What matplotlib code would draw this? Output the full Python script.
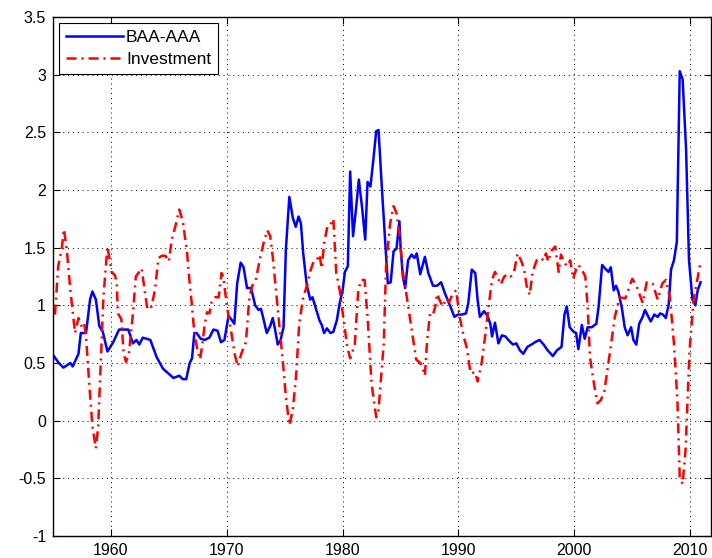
import numpy as np
import matplotlib
matplotlib.use('Agg')
import matplotlib.pyplot as plt

# Valores (año, valor)
baa_anio = [1955.0, 1955.5, 1955.9, 1956.5, 1956.7, 1957.2, 1957.4, 1957.85, 1958.2, 1958.4,
            1958.7, 1959.0, 1959.3, 1959.7, 1960.2, 1960.7, 1961.35, 1961.5, 1961.9, 1962.2,
            1962.45, 1962.75, 1963.4, 1963.95, 1964.5, 1964.95, 1965.4, 1965.9, 1966.2, 1966.5,
            1966.8, 1967.0, 1967.2, 1967.4, 1967.75, 1968.1, 1968.5, 1968.85, 1969.2, 1969.5,
            1969.8, 1970.15, 1970.45, 1970.65, 1970.9, 1971.2, 1971.45, 1971.75, 1972.1, 1972.45,
            1972.75, 1972.95, 1973.15, 1973.45, 1973.75, 1973.97, 1974.17, 1974.4, 1974.65, 1974.9,
            1975.1, 1975.4, 1975.7, 1975.95, 1976.2, 1976.4, 1976.6, 1976.9, 1977.2, 1977.4,
            1977.7, 1978.0, 1978.2, 1978.4, 1978.65, 1978.95, 1979.2, 1979.5, 1979.75, 1980.0,
            1980.2, 1980.45, 1980.65, 1980.9, 1981.15, 1981.4, 1981.7, 1981.95, 1982.15, 1982.4,
            1982.65, 1982.9, 1983.1, 1983.4, 1983.7, 1983.9, 1984.15, 1984.4, 1984.65, 1984.9,
            1985.0, 1985.2, 1985.4, 1985.65, 1985.95, 1986.2, 1986.4, 1986.7, 1987.1, 1987.4,
            1987.8, 1988.15, 1988.5, 1988.85, 1989.3, 1989.65, 1989.95, 1990.3, 1990.65, 1990.85,
            1991.15, 1991.45, 1991.65, 1991.85, 1992.2, 1992.5, 1992.75, 1992.9, 1993.15, 1993.45,
            1993.75, 1994.05, 1994.3, 1994.7, 1995.0, 1995.3, 1995.6, 1995.95, 1996.3, 1996.6,
            1997.0, 1997.35, 1997.7, 1998.15, 1998.5, 1998.9, 1999.15, 1999.35, 1999.6, 1999.95,
            2000.15, 2000.35, 2000.65, 2000.9, 2001.15, 2001.5, 2001.9, 2002.1, 2002.4, 2002.75,
            2002.95, 2003.15, 2003.4, 2003.6, 2003.8, 2004.1, 2004.35, 2004.6, 2004.9, 2005.1,
            2005.35, 2005.6, 2005.9, 2006.1, 2006.4, 2006.6, 2006.9, 2007.2, 2007.4, 2007.65,
            2007.9, 2008.15, 2008.35, 2008.6, 2008.85, 2009.1, 2009.35, 2009.65, 2009.9, 2010.2,
            2010.45, 2010.65, 2010.9]
baa_aaa = [0.57, 0.50, 0.46, 0.50, 0.47, 0.58, 0.76, 0.76, 1.05, 1.12,
           1.05, 0.82, 0.77, 0.60, 0.68, 0.79, 0.79, 0.79, 0.67, 0.70,
           0.66, 0.72, 0.70, 0.55, 0.45, 0.41, 0.37, 0.39, 0.36, 0.36,
           0.50, 0.54, 0.76, 0.76, 0.71, 0.70, 0.72, 0.79, 0.78, 0.68,
           0.70, 0.91, 0.87, 0.84, 1.19, 1.37, 1.33, 1.15, 1.15, 1.00,
           0.96, 0.97, 0.89, 0.76, 0.82, 0.89, 0.79, 0.66, 0.70, 0.81,
           1.48, 1.94, 1.76, 1.68, 1.77, 1.71, 1.45, 1.18, 1.05, 1.07,
           0.97, 0.87, 0.83, 0.76, 0.80, 0.76, 0.77, 0.87, 1.02, 1.13,
           1.29, 1.34, 2.16, 1.60, 1.83, 2.09, 1.83, 1.57, 2.07, 2.03,
           2.26, 2.51, 2.52, 2.00, 1.51, 1.19, 1.20, 1.47, 1.49, 1.73,
           1.51, 1.25, 1.15, 1.39, 1.44, 1.41, 1.45, 1.27, 1.42, 1.28,
           1.17, 1.17, 1.20, 1.10, 0.99, 0.90, 0.92, 0.92, 0.93, 1.02,
           1.31, 1.28, 1.05, 0.90, 0.95, 0.91, 0.84, 0.73, 0.85, 0.67,
           0.74, 0.73, 0.70, 0.66, 0.67, 0.61, 0.58, 0.64, 0.66, 0.68,
           0.70, 0.66, 0.61, 0.56, 0.61, 0.64, 0.92, 0.99, 0.81, 0.77,
           0.76, 0.62, 0.83, 0.71, 0.81, 0.81, 0.84, 0.99, 1.35, 1.31,
           1.29, 1.33, 1.13, 1.17, 1.12, 0.98, 0.81, 0.74, 0.81, 0.70,
           0.66, 0.84, 0.90, 0.96, 0.90, 0.86, 0.92, 0.90, 0.93, 0.92,
           0.89, 1.01, 1.31, 1.39, 1.55, 3.03, 2.96, 2.35, 1.39, 1.05,
           1.00, 1.13, 1.20]

inv_anio = [1955.17, 1955.45, 1955.75, 1955.95, 1956.2, 1956.5, 1956.9, 1957.2, 1957.5, 1957.7,
            1957.85, 1958.15, 1958.4, 1958.7, 1958.9, 1959.1, 1959.35, 1959.7, 1959.9, 1960.05,
            1960.35, 1960.5, 1960.6, 1960.9, 1961.1, 1961.3, 1961.55, 1961.9, 1962.15, 1962.65,
            1962.95, 1963.15, 1963.45, 1963.8, 1964.1, 1964.4, 1964.7, 1965.0, 1965.25, 1965.55,
            1965.9, 1966.2, 1966.55, 1966.8, 1967.0, 1967.2, 1967.45, 1967.7, 1967.9, 1968.1,
            1968.3, 1968.5, 1968.7, 1969.0, 1969.3, 1969.55, 1969.7, 1970.0, 1970.35, 1970.7,
            1970.95, 1971.25, 1971.65, 1971.95, 1972.2, 1972.5, 1972.9, 1973.2, 1973.5, 1973.75,
            1973.97, 1974.25, 1974.55, 1974.85, 1975.1, 1975.4, 1975.7, 1976.0, 1976.25, 1976.6,
            1976.95, 1977.25, 1977.5, 1977.75, 1978.0, 1978.2, 1978.4, 1978.7, 1978.95, 1979.2,
            1979.45, 1979.75, 1980.05, 1980.4, 1980.65, 1981.05, 1981.35, 1981.6, 1981.9, 1982.15,
            1982.5, 1982.9, 1983.1, 1983.4, 1983.55, 1983.75, 1984.1, 1984.4, 1984.65, 1984.9,
            1985.2, 1985.5, 1985.75, 1986.05, 1986.35, 1986.7, 1986.9, 1987.1, 1987.3, 1987.55,
            1987.8, 1988.0, 1988.15, 1988.35, 1988.65, 1988.95, 1989.2, 1989.5, 1989.8, 1990.1,
            1990.45, 1990.7, 1991.05, 1991.45, 1991.65, 1992.0, 1992.3, 1992.6, 1992.9, 1993.15,
            1993.35, 1993.65, 1993.95, 1994.25, 1994.5, 1994.8, 1995.1, 1995.4, 1995.65, 1995.9,
            1996.15, 1996.4, 1996.75, 1997.1, 1997.35, 1997.55, 1997.75, 1998.0, 1998.35, 1998.65,
            1998.85, 1999.1, 1999.35, 1999.65, 1999.9, 2000.15, 2000.35, 2000.65, 2000.95, 2001.15,
            2001.35, 2001.7, 2002.0, 2002.3, 2002.6, 2003.1, 2003.5, 2003.9, 2004.4, 2005.0,
            2005.4, 2005.9, 2006.25, 2006.75, 2007.2, 2007.6, 2007.9, 2008.25, 2008.6, 2008.9,
            2009.1, 2009.35, 2009.6, 2009.95, 2010.3, 2010.85]
inversion = [0.92, 1.34, 1.49, 1.66, 1.47, 1.13, 0.76, 0.89, 0.81, 0.84,
             0.73, 0.29, -0.05, -0.24, -0.05, 0.44, 1.07, 1.51, 1.39, 1.29,
             1.26, 1.19, 0.93, 0.88, 0.58, 0.51, 0.58, 0.93, 1.25, 1.32,
             1.10, 0.97, 0.97, 1.13, 1.41, 1.43, 1.43, 1.38, 1.57, 1.68,
             1.83, 1.73, 1.48, 1.19, 0.99, 0.76, 0.62, 0.53, 0.67, 0.84,
             0.94, 0.93, 1.03, 1.07, 1.07, 1.28, 1.25, 1.00, 0.79, 0.57,
             0.47, 0.58, 0.68, 1.07, 1.17, 1.22, 1.42, 1.55, 1.65, 1.60,
             1.42, 1.13, 0.81, 0.50, 0.21, -0.04, 0.09, 0.41, 0.84, 1.07,
             1.18, 1.31, 1.38, 1.39, 1.44, 1.32, 1.54, 1.69, 1.70, 1.75,
             1.28, 1.13, 0.90, 0.64, 0.54, 0.66, 1.13, 1.22, 1.22, 0.90,
             0.32, 0.03, 0.09, 0.47, 0.67, 1.34, 1.71, 1.86, 1.80, 1.62,
             1.29, 1.10, 0.93, 0.73, 0.53, 0.50, 0.46, 0.39, 0.70, 0.93,
             0.92, 0.99, 1.10, 1.05, 0.99, 1.06, 1.03, 1.10, 1.13, 0.90,
             0.73, 0.64, 0.41, 0.42, 0.34, 0.50, 0.73, 0.99, 1.22, 1.29,
             1.25, 1.18, 1.25, 1.27, 1.25, 1.29, 1.45, 1.39, 1.32, 1.16,
             1.09, 1.29, 1.39, 1.41, 1.39, 1.45, 1.38, 1.47, 1.51, 1.29,
             1.44, 1.38, 1.34, 1.39, 1.23, 1.31, 1.35, 1.31, 1.25, 0.99,
             0.55, 0.32, 0.15, 0.18, 0.26, 0.61, 0.90, 1.07, 1.06, 1.23,
             1.16, 1.02, 1.20, 1.19, 1.05, 1.19, 1.22, 1.07, 0.67, 0.18,
             -0.49, -0.55, -0.26, 0.61, 1.05, 1.35]

plt.rcParams['font.family'] = ['Liberation Sans', 'DejaVu Sans']
plt.rcParams['font.size'] = 11.5

fig = plt.figure(figsize=(7.12, 5.58), dpi=100)
ax = fig.add_axes([53/712, 22/558, 658/712, 519/558])

ax.plot(baa_anio, baa_aaa, color='#0000ff', lw=1.8, label='BAA-AAA')
ax.plot(inv_anio, inversion, color='#ff0000', lw=1.8, linestyle=(0, (4, 2, 0.8, 2)), label='Investment')

ax.set_xlim(1955, 2011.8)
ax.set_ylim(-1, 3.5)
ax.set_xticks([1960, 1970, 1980, 1990, 2000, 2010])
yt = np.arange(-1, 3.51, 0.5)
ax.set_yticks(yt)
ax.set_yticklabels([f'{v:g}' for v in yt])

ax.grid(True, color='k', linestyle=(0, (1, 4)), linewidth=0.7)
ax.tick_params(direction='in', top=True, right=True, length=5, width=0.8, pad=5)
for s in ax.spines.values():
    s.set_linewidth(1.0)

leg = ax.legend(loc='upper left', fancybox=False, framealpha=1, edgecolor='k',
                borderaxespad=0.35, handlelength=3.3, handletextpad=0.15,
                borderpad=0.4, labelspacing=0.4, fontsize=12.5)
leg.get_frame().set_linewidth(0.8)

plt.savefig('out.png', dpi=100)
